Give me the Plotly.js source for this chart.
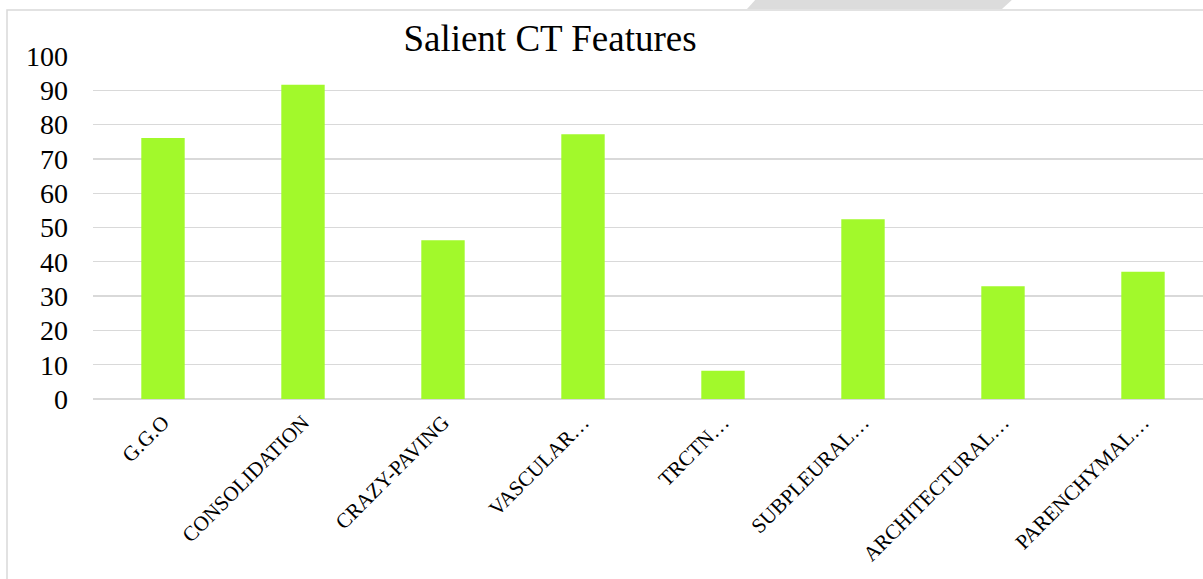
<!DOCTYPE html>
<html>
<head>
<meta charset="utf-8">
<script src="https://cdn.plot.ly/plotly-3.0.1.min.js"></script>
<style>
  html, body { margin: 0; padding: 0; background: #ffffff; }
  #chart { width: 1203px; height: 579px; }
</style>
</head>
<body>
<div id="chart"></div>
<script>
// ---- data ----
const categories = ["G.G.O", "CONSOLIDATION", "CRAZY-PAVING", "VASCULAR…", "TRCTN…", "SUBPLEURAL…", "ARCHITECTURAL…", "PARENCHYMAL…"];
const values = [76.1, 91.6, 46.3, 77.2, 8.2, 52.4, 32.9, 37.1];
const yTicks = [0, 10, 20, 30, 40, 50, 60, 70, 80, 90, 100];
const chartTitle = "Salient CT Features";

// ---- layout helpers (pixel -> paper) ----
const W = 1203, H = 579;
const mL = 93, mR = 0, mT = 56, mB = 180;
const pw = W - mL - mR, ph = H - mT - mB;
const px = x => (x - mL) / pw;
const py = y => (H - mB - y) / ph;

const serif = 'Liberation Serif, Times New Roman, serif';

const trace = {
  type: 'bar',
  x: categories,
  y: values,
  width: 0.31,
  marker: { color: '#A2F92B', line: { width: 0 } },
  hoverinfo: 'x+y'
};

const layout = {
  width: W, height: H,
  margin: { l: mL, r: mR, t: mT, b: mB, pad: 0 },
  paper_bgcolor: '#ffffff',
  plot_bgcolor: '#ffffff',
  showlegend: false,
  font: { family: serif, color: '#000000' },
  title: {
    text: chartTitle,
    font: { family: serif, size: 37, color: '#000000' },
    x: 550 / W, xref: 'container', xanchor: 'center',
    y: 1 - 38 / H, yref: 'container', yanchor: 'middle'
  },
  xaxis: {
    type: 'category',
    range: [-0.5, -0.5 + pw / 140],
    tickangle: -45,
    tickfont: { family: serif, size: 21, color: '#000000' },
    ticklabelstandoff: 6,
    showgrid: false,
    showline: false,
    ticks: '',
    zeroline: false,
    automargin: false
  },
  yaxis: {
    range: [0, 100],
    tickvals: yTicks,
    ticktext: yTicks.map(String),
    tickfont: { family: serif, size: 28, color: '#000000' },
    ticks: '',
    ticklabelstandoff: 24,
    showgrid: true,
    gridcolor: '#d9d9d9',
    gridwidth: 1.4,
    zeroline: true,
    zerolinecolor: '#d9d9d9',
    zerolinewidth: 1.4,
    showline: false,
    automargin: false
  },
  shapes: [
    {
      type: 'rect', xref: 'paper', yref: 'paper', layer: 'below',
      x0: px(7), x1: px(1260), y0: py(10), y1: py(650),
      line: { color: '#d9d9d9', width: 1.5 }, fillcolor: 'rgba(0,0,0,0)'
    },
    {
      type: 'path', xref: 'paper', yref: 'paper', layer: 'above',
      path: 'M ' + px(747) + ' ' + py(9) + ' L ' + px(757) + ' ' + py(-2) +
            ' L ' + px(1014) + ' ' + py(-2) + ' L ' + px(1002) + ' ' + py(9) + ' Z',
      fillcolor: '#dcdcdc', line: { width: 0 }
    }
  ]
};

Plotly.newPlot('chart', [trace], layout, { displayModeBar: false, staticPlot: true });
</script>
</body>
</html>
